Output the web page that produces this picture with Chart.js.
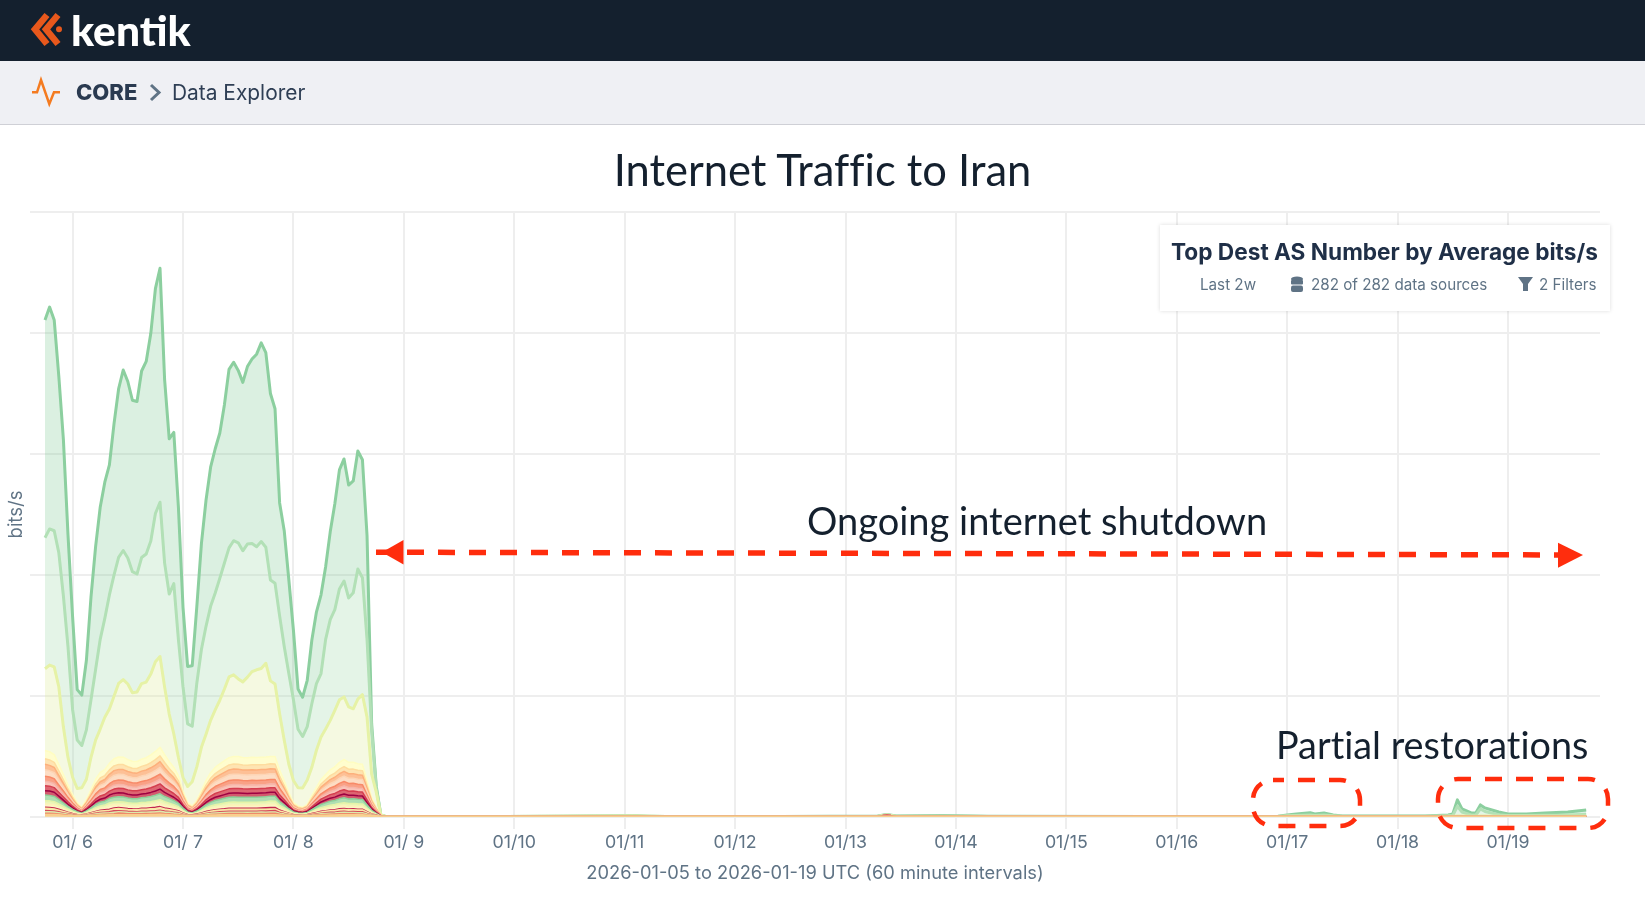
<!DOCTYPE html>
<html>
<head>
<meta charset="utf-8">
<title>Internet Traffic to Iran</title>
<script src="https://cdn.jsdelivr.net/npm/chart.js@4"></script>
<style>
  html, body { margin: 0; padding: 0; width: 1645px; height: 904px; overflow: hidden; background: #fff; }
  body { position: relative; font-family: Inter, sans-serif; }
  .abs { position: absolute; white-space: nowrap; line-height: 1; }
  #topbar { position: absolute; left: 0; top: 0; width: 1645px; height: 61px; background: #14202e; }
  #subbar { position: absolute; left: 0; top: 61px; width: 1645px; height: 64px; background: #eff0f4; border-bottom: 1px solid #cfd0d6; box-sizing: border-box; }
  #chart { position: absolute; left: 0; top: 124px; }
  #legendBox { position: absolute; left: 1160px; top: 225px; width: 450px; height: 86px; background: #fff; box-shadow: 0 0 4px rgba(0, 0, 0, 0.14); }
  .note { color: #14202e; font-family: Lato, sans-serif; font-variant-ligatures: none; }
  .meta { color: #5f7385; font-size: 15.2px; }
  svg.overlay { position: absolute; left: 0; top: 0; pointer-events: none; }
</style>
</head>
<body>
<div id="topbar"></div>
<div id="subbar"></div>
<canvas id="chart" width="1645" height="780"></canvas>

<svg class="overlay" width="1645" height="904">
  <g fill="none" stroke="#e8581c" stroke-width="6.5">
    <path d="M47 15 L35 29.3 L47 44"/>
    <path d="M58 15 L46 29.3 L58 44"/>
  </g>
  <circle cx="59" cy="29.3" r="3" fill="#e8581c"/>
  <polyline points="32,92.3 37,92.3 41,80 49.3,104 54,92.3 60,92.3" fill="none" stroke="#f47b20" stroke-width="2.5"/>
  <polyline points="151,85 159,92.5 151,100" fill="none" stroke="#5f7385" stroke-width="3"/>

  <line x1="376" y1="552.2" x2="1583" y2="555" fill="none" stroke="#ff2d0d" stroke-width="5.5" stroke-dasharray="17 14"/>
  <g fill="none" stroke="#ff2d0d" stroke-width="4.5" stroke-dasharray="17 14">
    <rect x="1253" y="780" width="107" height="46" rx="20" stroke-dashoffset="6"/>
    <rect x="1438" y="779" width="170" height="49" rx="20" stroke-dashoffset="4"/>
  </g>
  <polygon points="382,552.2 403.500,540 403.500,564.500" fill="#ff2d0d"/>
  <polygon points="1583,555 1558,542.700 1558,567.700" fill="#ff2d0d"/>
</svg>

<div class="abs" style="left:71px;top:4px;font:900 42.5px Lato,sans-serif;color:#fff;">kentik</div>
<div class="abs" style="left:76px;top:81px;font-weight:800;font-size:22px;color:#2a3a50;">CORE</div>
<div class="abs" style="left:172px;top:83px;font-size:20.9px;color:#2e3e54;">Data Explorer</div>

<div class="abs note" style="left:0;top:148px;width:1645px;text-align:center;font-size:43.500px;">Internet Traffic to Iran</div>
<div class="abs note" style="left:807px;top:501px;font-size:38px;">Ongoing internet shutdown</div>
<div class="abs note" style="left:1276px;top:726px;font-size:37.800px;">Partial restorations</div>

<div id="legendBox"></div>
<div class="abs" style="left:1171px;top:241px;font-weight:700;font-size:22.650px;color:#1f2f47;">Top Dest AS Number by Average bits/s</div>
<div class="abs meta" style="left:1200px;top:277px;">Last 2w</div>
<svg class="overlay" width="1645" height="904">
  <g fill="#5f7385">
    <ellipse cx="1297" cy="279" rx="6" ry="2.6"/>
    <rect x="1291" y="280" width="12" height="4.5" rx="1"/>
    <rect x="1291" y="285.5" width="12" height="6.5" rx="2"/>
    <polygon points="1518,277 1533,277 1528,284 1528,291 1523,291 1523,284"/>
  </g>
</svg>
<div class="abs meta" style="left:1311px;top:277px;">282 of 282 data sources</div>
<div class="abs meta" style="left:1539px;top:277px;">2 Filters</div>

<script>
// hours since 2026-01-05 18:00 UTC, one per interval through the outage
const burstHours = [
  0, 1, 2, 3, 4, 5, 6, 7, 8, 9, 10, 11, 12, 13, 14, 15, 16, 17, 18, 19,
  20, 21, 22, 23, 24, 25, 26, 27, 28, 29, 30, 31, 32, 33, 34, 35, 36, 37, 38, 39,
  40, 41, 42, 43, 44, 45, 46, 47, 48, 49, 50, 51, 52, 53, 54, 55, 56, 57, 58, 59,
  60, 61, 62, 63, 64, 65, 66, 67, 68, 69, 70, 71, 72, 73,
];
const tailHours = [
  74, 100, 112, 128, 131, 135, 160, 181, 183, 185, 195, 205, 240, 268, 270, 272, 275, 276,
  278, 280, 282, 300, 305, 306, 307, 308, 310, 311, 312, 313, 316, 318, 322, 326, 331, 335,
];
const tickHours = [6, 30, 54, 78, 102, 126, 150, 174, 198, 222, 246, 270, 294, 318];
const tickLabels = ["01/ 6", "01/ 7", "01/ 8", "01/ 9", "01/10", "01/11", "01/12", "01/13", "01/14", "01/15", "01/16", "01/17", "01/18", "01/19"];

// bits/s bands, bottom of the stack first
const as01 = [
  2.2, 2.2, 2.1, 1.8, 1.5, 1.2, 1, 1, 1, 1,
  1.2, 1.4, 1.6, 1.7, 1.8, 2, 2, 2, 2, 1.9,
  1.9, 2, 2, 2.1, 2.2, 2.3, 2.1, 2, 1.7, 1.5,
  1.1, 1, 1, 1, 1.1, 1.3, 1.6, 1.7, 1.8, 1.9,
  2, 2, 2, 2, 2, 2, 2, 2, 2, 2,
  2, 1.6, 1.3, 1.1, 1, 1, 1, 1, 1, 1.2,
  1.4, 1.5, 1.6, 1.7, 1.9, 2, 1.9, 1.9, 1.8, 1.8,
  1.3, 1, 0.8, 0.3,
];
const as02 = [
  1.5, 1.5, 1.4, 1.2, 1, 0.7, 0.5, 0.4, 0.3, 0.4,
  0.6, 0.9, 1, 1.1, 1.2, 1.3, 2, 1.6, 1.3, 1.3,
  1.3, 1.3, 1.4, 1.4, 1.5, 1.7, 1.4, 1.3, 1.1, 1,
  0.6, 0.3, 0.3, 0.4, 0.6, 0.8, 1, 1.1, 1.2, 1.3,
  1.4, 1.4, 1.4, 1.4, 1.3, 1.4, 1.4, 1.4, 1.5, 1.6,
  1.8, 1.1, 0.8, 0.6, 0.3, 0.3, 0.2, 0.3, 0.5, 0.7,
  0.9, 1, 1.1, 1.2, 1.3, 1.3, 1.3, 1.3, 1.2, 1.2,
  0.8, 0.4, 0.2, 0.05,
];
const as03 = [
  1.6, 1.5, 1.5, 1.2, 0.9, 0.8, 0.5, 0.3, 0.2, 0.4,
  0.6, 0.8, 1.1, 1.1, 1.2, 1.4, 1.2, 1.4, 1.3, 1.3,
  1.2, 1.4, 1.3, 1.5, 1.5, 1.6, 1.5, 1.3, 1.2, 0.9,
  0.6, 0.3, 0.2, 0.4, 0.6, 0.9, 1, 1.2, 1.2, 1.3,
  1.4, 1.4, 1.3, 1.4, 1.4, 1.4, 1.3, 1.5, 1.3, 1.4,
  1.2, 1.1, 0.8, 0.5, 0.3, 0.2, 0.2, 0.3, 0.5, 0.7,
  0.9, 1, 1.1, 1.1, 1.3, 1.3, 1.2, 1.3, 1.2, 1.3,
  0.8, 0.5, 0.2, 0.05,
];
const as04 = [
  1.1, 1.1, 1, 0.9, 0.7, 0.5, 0.4, 0.2, 0.2, 0.3,
  0.5, 0.6, 0.7, 0.8, 0.9, 1.4, 1, 1, 1, 0.9,
  0.9, 1, 1, 1, 1.1, 1.2, 1, 0.9, 0.8, 0.7,
  0.4, 0.2, 0.2, 0.3, 0.4, 0.6, 0.7, 0.8, 0.9, 0.9,
  1, 1, 1, 1, 1, 1, 1, 1, 1.2, 1.3,
  1.4, 0.8, 0.6, 0.4, 0.2, 0.2, 0.2, 0.2, 0.4, 0.5,
  0.6, 0.7, 0.8, 0.8, 0.9, 1, 0.9, 0.9, 0.9, 0.9,
  0.6, 0.3, 0.2, 0.03,
];
const as05 = [
  2.2, 2.1, 2, 1.7, 1.4, 1, 0.7, 0.5, 0.3, 0.6,
  0.9, 1.2, 1.5, 1.6, 1.7, 1.8, 2.2, 2, 1.9, 1.8,
  1.8, 1.9, 2, 2.1, 2.2, 2.3, 2, 1.8, 1.6, 1.4,
  0.9, 0.5, 0.3, 0.5, 0.9, 1.2, 1.5, 1.6, 1.8, 1.9,
  2, 2, 2, 2, 2, 2, 2, 1.9, 1.8, 1.7,
  1.6, 1.5, 1.2, 0.8, 0.5, 0.3, 0.3, 0.4, 0.7, 1,
  1.2, 1.4, 1.6, 1.7, 1.8, 1.9, 1.8, 1.8, 1.8, 1.7,
  1.2, 0.6, 0.3, 0.06,
];
const as06 = [
  1.1, 1.1, 1, 0.9, 0.7, 0.5, 0.4, 0.2, 0.2, 0.3,
  0.4, 0.6, 0.7, 0.8, 0.9, 1, 1, 1, 0.9, 0.9,
  0.9, 1, 1, 1, 1.1, 1.2, 1, 0.9, 0.8, 0.7,
  0.4, 0.2, 0.2, 0.3, 0.4, 0.6, 0.7, 0.8, 0.9, 0.9,
  1, 1, 1, 1, 1, 1, 1, 1.2, 1.4, 1.5,
  1.5, 0.8, 0.6, 0.4, 0.2, 0.2, 0.2, 0.2, 0.4, 0.5,
  0.6, 0.7, 0.8, 0.8, 0.9, 1, 0.9, 0.9, 0.9, 0.9,
  0.6, 0.3, 0.2, 0.03,
];
const as07 = [
  3.3, 3.2, 3.1, 2.6, 2.1, 1.6, 1.1, 0.7, 0.5, 0.8,
  1.4, 1.9, 2.2, 2.3, 3.6, 3.2, 2.9, 2.9, 2.8, 2.8,
  2.8, 2.9, 2.9, 3.1, 3.2, 3.5, 3.1, 2.8, 2.5, 2,
  1.3, 0.7, 0.5, 0.8, 1.3, 1.8, 2.2, 2.5, 2.6, 2.8,
  2.9, 3, 3, 3, 2.9, 2.9, 3, 3, 3, 3.2,
  3.2, 2.3, 1.8, 1.2, 0.7, 0.5, 0.5, 0.6, 1, 1.4,
  1.9, 2.1, 2.3, 2.5, 2.7, 2.9, 2.7, 2.7, 2.6, 2.6,
  1.8, 1, 0.5, 0.1,
];
const as08 = [
  3.2, 3.3, 3.1, 2.6, 2.1, 1.6, 1.1, 0.7, 0.4, 0.9,
  1.3, 1.9, 2.2, 2.4, 2.6, 2.8, 2.9, 3, 2.9, 2.7,
  2.8, 2.8, 3, 3, 3.3, 3.4, 3.1, 2.7, 2.5, 2,
  1.3, 0.7, 0.5, 0.8, 1.3, 1.8, 2.2, 2.5, 2.6, 2.8,
  3, 3, 3, 2.9, 3, 3, 2.9, 3, 3, 3.1,
  3, 2.3, 1.8, 1.2, 0.7, 0.5, 0.4, 0.6, 1, 1.5,
  1.8, 2.1, 2.4, 2.5, 2.7, 2.8, 2.7, 2.7, 2.7, 2.6,
  1.8, 1, 0.4, 0.1,
];
const as09 = [
  5.5, 5.4, 5.2, 4.3, 3.5, 2.6, 1.8, 1.2, 0.7, 1.4,
  2.2, 3.1, 3.7, 3.9, 4.4, 4.7, 4.9, 5, 4.7, 4.6,
  4.6, 4.7, 4.9, 5.1, 5.4, 5.8, 5.1, 4.6, 4.1, 3.4,
  2.2, 1.2, 0.8, 1.4, 2.2, 3, 3.6, 4.1, 4.4, 4.7,
  4.9, 5, 5, 4.9, 4.9, 4.9, 5, 4.9, 4.9, 4.9,
  4.9, 3.9, 3, 2, 1.2, 0.8, 0.7, 1, 1.7, 2.4,
  3.1, 3.5, 3.9, 4.1, 4.5, 4.8, 4.5, 4.5, 4.4, 4.3,
  3, 1.6, 0.7, 0.15,
];
const as10 = [
  4.4, 4.3, 4.1, 3.5, 2.8, 2.1, 1.5, 0.9, 0.6, 1.1,
  1.8, 2.5, 2.9, 3.1, 3.5, 3.8, 3.9, 3.9, 3.8, 3.7,
  3.7, 3.8, 3.9, 4.1, 4.3, 4.6, 4.1, 3.7, 3.3, 2.7,
  1.7, 0.9, 0.7, 1.1, 1.7, 2.4, 2.9, 3.3, 3.5, 3.7,
  3.9, 4, 4, 3.9, 3.9, 3.9, 3.9, 3.9, 3.9, 3.9,
  3.9, 3.1, 2.4, 1.6, 0.9, 0.7, 0.6, 0.8, 1.4, 1.9,
  2.5, 2.8, 3.1, 3.3, 3.6, 3.8, 3.6, 3.6, 3.5, 3.5,
  2.4, 1.3, 0.6, 0.1,
];
const as11 = [
  5, 4.9, 4.6, 3.9, 3.2, 2.4, 1.7, 1, 0.7, 1.3,
  2, 2.8, 3.3, 3.5, 3.9, 4.3, 4.4, 4.4, 4.3, 4.1,
  4.1, 4.3, 4.4, 4.6, 4.9, 5.2, 4.6, 4.1, 3.7, 3.1,
  1.9, 1, 0.8, 1.2, 1.9, 2.7, 3.3, 3.7, 4, 4.2,
  4.4, 4.5, 4.5, 4.4, 4.4, 4.4, 4.4, 4.4, 4.4, 4.4,
  4.4, 3.5, 2.7, 1.8, 1, 0.8, 0.7, 0.9, 1.6, 2.2,
  2.8, 3.2, 3.5, 3.7, 4.1, 4.3, 4.1, 4.1, 4, 3.9,
  2.7, 1.4, 0.7, 0.15,
];
const as12 = [
  4.4, 4.2, 4.2, 3.4, 2.9, 2.1, 1.4, 1, 0.6, 1.1,
  1.8, 2.4, 3, 3.1, 3.4, 3.9, 3.9, 3.9, 3.7, 3.8,
  3.6, 3.9, 3.9, 4, 4.4, 4.6, 4.1, 3.6, 3.3, 2.8,
  1.7, 0.9, 0.7, 1.1, 1.7, 2.4, 2.9, 3.2, 3.6, 3.7,
  3.9, 4, 4, 3.9, 3.8, 4, 3.9, 3.9, 3.9, 3.9,
  3.9, 3.1, 2.4, 1.6, 0.9, 0.7, 0.6, 0.8, 1.4, 1.9,
  2.5, 2.8, 3.1, 3.3, 3.6, 3.8, 3.6, 3.6, 3.5, 3.5,
  2.4, 1.3, 0.6, 0.1,
];
const as13 = [
  5, 4.8, 4.7, 3.9, 3.1, 2.4, 1.7, 1, 0.7, 1.3,
  2, 2.8, 3.3, 3.5, 3.9, 4.2, 4.4, 4.4, 4.3, 4.2,
  4.1, 4.3, 4.4, 4.7, 4.8, 5.2, 4.7, 4.1, 3.7, 3,
  1.9, 1, 0.8, 1.2, 1.9, 2.7, 3.3, 3.7, 3.9, 4.2,
  4.4, 4.5, 4.5, 4.4, 4.4, 4.5, 4.4, 4.4, 4.4, 4.4,
  4.4, 3.5, 2.7, 1.8, 1, 0.8, 0.7, 0.9, 1.6, 2.2,
  2.8, 3.1, 3.5, 3.8, 4, 4.3, 4.1, 4.1, 4, 3.9,
  2.7, 1.4, 0.7, 0.15,
];
const as14 = [
  6.3, 6.2, 5.9, 5, 4, 3, 2.1, 1.3, 0.9, 1.6,
  2.6, 3.5, 4.2, 4.4, 5, 5.4, 5.6, 5.6, 5.4, 5.2,
  5.2, 5.4, 5.6, 5.9, 6.2, 6.6, 5.9, 5.2, 4.7, 3.9,
  2.5, 1.3, 1, 1.5, 2.5, 3.4, 4.2, 4.7, 5, 5.3,
  5.6, 5.7, 5.7, 5.6, 5.6, 5.6, 5.6, 5.6, 5.6, 5.6,
  5.6, 4.4, 3.4, 2.3, 1.3, 1, 0.9, 1.1, 2, 2.7,
  3.5, 4, 4.4, 4.7, 5.1, 5.4, 5.1, 5.1, 5, 5,
  3.4, 1.8, 0.9, 0.2,
];
const as15 = [
  5.5, 5.4, 5.2, 4.4, 3.5, 2.7, 1.8, 1.1, 0.8, 1.4,
  2.2, 3.1, 3.6, 3.9, 4.3, 4.8, 4.9, 4.9, 4.8, 4.6,
  4.6, 4.8, 4.9, 5.2, 5.4, 5.7, 5.2, 4.6, 4.1, 3.4,
  2.2, 1.2, 0.9, 1.3, 2.2, 3, 3.7, 4.1, 4.4, 4.6,
  4.9, 5, 5, 4.9, 4.9, 4.9, 4.9, 4.9, 4.9, 4.9,
  4.9, 3.8, 3, 2, 1.2, 0.8, 0.8, 1, 1.8, 2.4,
  3.1, 3.5, 3.9, 4.2, 4.5, 4.7, 4.5, 4.5, 4.4, 4.3,
  3, 1.6, 0.8, 0.15,
];
const as16 = [
  5.5, 5.4, 5.1, 4.4, 3.5, 2.6, 1.9, 1.1, 0.7, 1.4,
  2.3, 3.1, 3.7, 3.9, 4.4, 4.7, 4.9, 5, 4.7, 4.6,
  4.6, 4.7, 4.9, 5.2, 5.4, 5.7, 5.2, 4.6, 4.1, 3.4,
  2.1, 1.2, 0.8, 1.4, 2.2, 3, 3.6, 4.1, 4.4, 4.7,
  4.9, 5, 5, 4.9, 4.9, 4.9, 5, 4.9, 4.9, 4.9,
  4.9, 3.9, 3, 2, 1.1, 0.9, 0.7, 1, 1.7, 2.4,
  3.1, 3.5, 3.9, 4.1, 4.5, 4.7, 4.5, 4.5, 4.4, 4.4,
  3, 1.6, 0.7, 0.15,
];
const as17 = [
  8.2, 8.1, 7.7, 6.5, 5.3, 4, 2.8, 1.7, 1.1, 2.1,
  3.4, 4.6, 5.5, 5.9, 6.5, 7.1, 7.4, 7.3, 7.1, 6.9,
  6.9, 7.1, 7.3, 7.7, 8.1, 8.6, 7.7, 6.9, 6.2, 5.1,
  3.2, 1.7, 1.3, 2, 3.2, 4.5, 5.5, 6.1, 6.6, 7,
  7.3, 7.5, 7.5, 7.4, 7.3, 7.4, 7.3, 7.3, 7.4, 7.3,
  7.3, 5.8, 4.5, 3, 1.7, 1.3, 1.1, 1.5, 2.6, 3.6,
  4.6, 5.3, 5.8, 6.2, 6.8, 7.1, 6.8, 6.8, 6.6, 6.5,
  4.5, 2.4, 1.1, 0.2,
];
const as18 = [
  81, 86, 87, 77, 47, 27, 17, 14, 19, 20,
  32, 39, 43, 52, 54, 62, 73, 77, 75, 68,
  69, 75, 75, 80, 89, 90, 67, 47, 33, 18,
  13, 16, 24, 33, 43, 46, 52, 57, 63, 71,
  80, 81, 77, 75, 80, 85, 87, 88, 93, 75,
  72, 56, 40, 28, 22, 18, 19, 24, 28, 37,
  42, 45, 49, 56, 62, 62, 55, 53, 64, 69,
  63, 23, 15, 0,
];
const as19 = [
  130, 135, 135, 133, 130, 110, 67, 48, 42, 49,
  57, 70, 89, 98, 113, 120, 125, 128, 125, 120,
  117, 125, 127, 132, 147, 153, 123, 119, 149, 117,
  90, 62, 55, 83, 97, 107, 113, 116, 121, 125,
  128, 133, 135, 130, 132, 127, 122, 126, 115, 100,
  100, 97, 93, 90, 80, 58, 51, 53, 63, 66,
  63, 89, 100, 100, 110, 115, 108, 115, 129, 116,
  77, 43, 4, 0,
];
const as20 = [
  216, 220, 209, 175, 155, 111, 92, 50, 50, 69,
  102, 122, 131, 135, 129, 150, 167, 179, 175, 170,
  171, 185, 191, 206, 223, 232, 182, 154, 150, 131,
  79, 57, 60, 76, 105, 125, 138, 143, 144, 157,
  177, 177, 171, 167, 176, 183, 191, 197, 193, 185,
  173, 112, 115, 93, 69, 40, 39, 46, 63, 71,
  78, 72, 87, 105, 118, 121, 112, 111, 117, 117,
  103, 7, 2, 0,
];

// after the shutdown only these bands carry anything, one value per tailHours entry
const as01Tail = [
  0.5, 0.5, 0.5, 0.5, 0.5, 0.5, 0.5, 0.5, 0.5, 0.5, 0.5, 0.5, 0.5, 0.5, 0.5, 0.5, 0.5, 0.5,
  0.5, 0.5, 0.5, 0.5, 0.5, 0.5, 0.5, 0.5, 0.5, 0.5, 0.5, 0.5, 0.5, 0.5, 0.5, 0.5, 0.5, 0.5,
];
const as04Tail = [0, 0, 0, 0, 0, 0, 0, 0, 1.5];
const as18Tail = [
  0, 0, 0.3, 0.6, 0.3, 0, 0, 0, 0, 0, 0, 0, 0, 0, 0.2, 0.3, 0.3, 0.3,
  0.3, 0.2, 0, 0, 0.2, 0.3, 0.5, 0.5, 0.3, 0.3, 0.5, 0.5, 0.3, 0.2, 0.2, 0.2, 0.2, 0.3,
];
const as19Tail = [
  0, 0, 0, 0.1, 0, 0, 0, 0.2, 0.2, 0.2, 0.4, 0.1, 0, 0.1, 0.5, 0.8, 1.2, 0.8,
  1.2, 0.5, 0.2, 0.2, 0.5, 0.7, 9.5, 4, 1.2, 1.2, 7, 4.5, 1.5, 0.8, 0.8, 1, 1.2, 1.7,
];
const as20Tail = [
  0, 0, 0, 0.1, 0, 0, 0, 0.2, 0.3, 0.2, 0.6, 0.2, 0, 0.2, 0.8, 1.4, 2.3, 1.4,
  2, 0.8, 0.3, 0.3, 0.8, 1.5, 6.5, 3, 2, 2, 4, 3.5, 2.7, 1.5, 1.5, 2.3, 3.1, 4.5,
];

const axisNote = "2026-01-05 to 2026-01-19 UTC (60 minute intervals)";
const yTickValues = [0, 120, 240, 360, 480, 600];

const bandValues = [as01, as02, as03, as04, as05, as06, as07, as08, as09, as10, as11, as12, as13, as14, as15, as16, as17, as18, as19, as20];
const tailValues = { 0: as01Tail, 3: as04Tail, 17: as18Tail, 18: as19Tail, 19: as20Tail };
const bandLines = [
  "#f8cf8e", "#ee8a6b", "#dcebab", "#d8495a", "#fbe7a5", "#c2274f", "#fdf3b8", "#e6f4a8", "#8fd19a", "#9e0142",
  "#d53e4f", "#f7b5a8", "#f88a68", "#fdd5b5", "#fdb07c", "#fedd9f", "#fffdc2", "#e6f2a6", "#b2e0b6", "#8ccf9f",
];
const bandFills = [
  "#f8cf8ecc", "#ee8a6bcc", "#dcebabcc", "#d8495acc", "#fbe7a5cc", "#c2274fcc", "#fdf3b8cc", "#e6f4a8cc", "#9bd7a0cc", "#c8304acc",
  "#d53e4fcc", "#f7b5a8cc", "#f88a68cc", "#fdd5b5cc", "#fdb07ccc", "#fedd9fcc", "#fffdc2cc", "#dfeb9b4d", "#a5dcb04d", "#79c98f45",
];

const allHours = burstHours.concat(tailHours);

const datasets = bandValues.map((values, idx) => {
  const tail = tailValues[idx] || [];
  return {
    label: `AS band ${idx + 1}`,
    data: allHours.map((hour, i) => ({
      x: hour,
      y: i < values.length ? values[i] : tail[i - values.length] || 0,
    })),
    borderColor: bandLines[idx],
    backgroundColor: bandFills[idx],
    borderWidth: idx >= 17 ? 3 : idx === 0 ? 2.2 : 1.5,
    fill: idx === 0 ? "origin" : "-1",
    pointRadius: 0,
    tension: 0,
    borderJoinStyle: "round",
  };
});

const labelColor = "#5f7385";
const gridColor = "#eeeeee";

new Chart(document.getElementById("chart"), {
  type: "line",
  data: { datasets },
  options: {
    responsive: false,
    animation: false,
    devicePixelRatio: 1,
    layout: { padding: { top: 88, right: 45 } },
    plugins: {
      legend: { display: false },
      tooltip: { enabled: false },
    },
    scales: {
      x: {
        type: "linear",
        min: -3.26,
        max: 338,
        border: { display: false },
        grid: { color: gridColor, lineWidth: 2, tickLength: 12 },
        afterBuildTicks(scale) {
          scale.ticks = tickHours.map((value) => ({ value }));
        },
        afterFit(scale) {
          scale.height = 87;
        },
        ticks: {
          autoSkip: false,
          maxRotation: 0,
          padding: 3,
          color: labelColor,
          font: { family: "Inter, sans-serif", size: 17.8 },
          callback(value) {
            return tickLabels[tickHours.indexOf(value)];
          },
        },
        title: {
          display: true,
          text: axisNote,
          color: labelColor,
          font: { family: "Inter, sans-serif", size: 18.3 },
          padding: { top: 0, bottom: 20 },
        },
      },
      y: {
        stacked: true,
        min: 0,
        max: 600,
        border: { display: false },
        grid: { color: gridColor, lineWidth: 2, drawTicks: false },
        afterBuildTicks(scale) {
          scale.ticks = yTickValues.map((value) => ({ value }));
        },
        afterFit(scale) {
          scale.width = 30;
        },
        ticks: { display: false },
        title: {
          display: true,
          text: "bits/s",
          color: labelColor,
          font: { family: "Inter, sans-serif", size: 18.5 },
          padding: { top: 5, bottom: 0 },
        },
      },
    },
  },
});
</script>
</body>
</html>
